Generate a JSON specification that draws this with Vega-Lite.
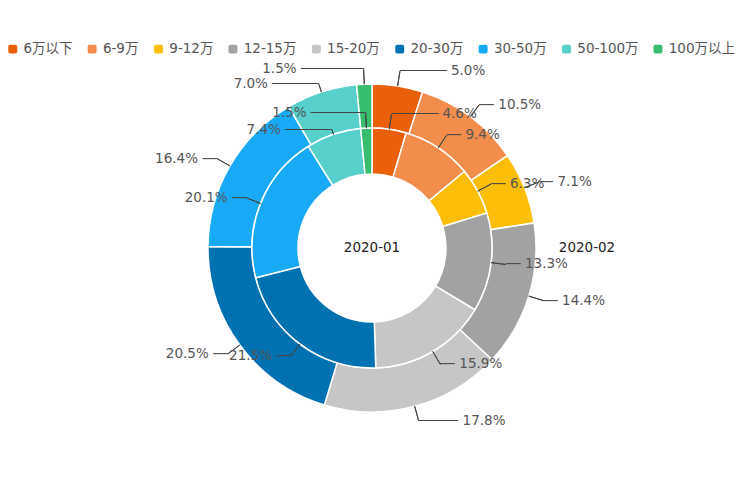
{
  "$schema": "https://vega.github.io/schema/vega-lite/v6.json",
  "width": 744,
  "height": 496,
  "autosize": {"type": "none"},
  "padding": 0,
  "config": {
    "view": {"stroke": null},
    "font": "DejaVu Sans, Noto Sans CJK SC",
    "text": {"font": "DejaVu Sans, Noto Sans CJK SC"}
  },
  "datasets": {
    "share": [
      {"month": "2020-01", "k": 1, "cat": "6万以下", "v": 0.046},
      {"month": "2020-01", "k": 2, "cat": "6-9万", "v": 0.094},
      {"month": "2020-01", "k": 3, "cat": "9-12万", "v": 0.063},
      {"month": "2020-01", "k": 4, "cat": "12-15万", "v": 0.133},
      {"month": "2020-01", "k": 5, "cat": "15-20万", "v": 0.159},
      {"month": "2020-01", "k": 6, "cat": "20-30万", "v": 0.215},
      {"month": "2020-01", "k": 7, "cat": "30-50万", "v": 0.201},
      {"month": "2020-01", "k": 8, "cat": "50-100万", "v": 0.074},
      {"month": "2020-01", "k": 9, "cat": "100万以上", "v": 0.015},
      {"month": "2020-02", "k": 1, "cat": "6万以下", "v": 0.050},
      {"month": "2020-02", "k": 2, "cat": "6-9万", "v": 0.105},
      {"month": "2020-02", "k": 3, "cat": "9-12万", "v": 0.071},
      {"month": "2020-02", "k": 4, "cat": "12-15万", "v": 0.144},
      {"month": "2020-02", "k": 5, "cat": "15-20万", "v": 0.178},
      {"month": "2020-02", "k": 6, "cat": "20-30万", "v": 0.205},
      {"month": "2020-02", "k": 7, "cat": "30-50万", "v": 0.164},
      {"month": "2020-02", "k": 8, "cat": "50-100万", "v": 0.070},
      {"month": "2020-02", "k": 9, "cat": "100万以上", "v": 0.015}
    ]
  },
  "layer": [
    {
      "data": {"name": "share"},
      "transform": [{"filter": "datum.month == '2020-02'"}],
      "mark": {"type": "arc", "radius": 164, "radius2": 120, "stroke": "#fff", "strokeWidth": 1.5},
      "encoding": {
        "theta": {"field": "v", "type": "quantitative", "stack": "normalize", "scale": {"domain": [0, 1]}},
        "order": {"field": "k", "type": "quantitative"},
        "color": {
          "field": "cat",
          "type": "nominal",
          "scale": {
            "domain": ["6万以下", "6-9万", "9-12万", "12-15万", "15-20万", "20-30万", "30-50万", "50-100万", "100万以上"],
            "range": ["#ea5f0a", "#f28d4c", "#fcbe08", "#a2a2a2", "#c6c6c6", "#0072b2", "#18aaf6", "#57d0cc", "#36bd6d"]
          },
          "legend": {
            "title": null,
            "orient": "none",
            "legendX": 6,
            "legendY": 42,
            "direction": "horizontal",
            "columns": 9,
            "columnPadding": 12.4,
            "labelOffset": 4,
            "labelFontSize": 13.5,
            "labelColor": "#555",
            "labelFont": "DejaVu Sans, Noto Sans CJK SC",
            "symbolType": "M-0.55,-1H0.55Q1,-1 1,-0.55V0.55Q1,1 0.55,1H-0.55Q-1,1 -1,0.55V-0.55Q-1,-1 -0.55,-1Z",
            "symbolSize": 80,
            "symbolStrokeWidth": 0
          }
        }
      }
    },
    {
      "data": {"name": "share"},
      "transform": [{"filter": "datum.month == '2020-01'"}],
      "mark": {"type": "arc", "radius": 120, "radius2": 74, "stroke": "#fff", "strokeWidth": 1.5},
      "encoding": {
        "theta": {"field": "v", "type": "quantitative", "stack": "normalize", "scale": {"domain": [0, 1]}},
        "order": {"field": "k", "type": "quantitative"},
        "color": {"field": "cat", "type": "nominal"}
      }
    },
    {
      "data": {"name": "share"},
      "transform": [
        {"filter": "datum.month == '2020-02'"},
        {"fold": ["v", "v"], "as": ["fk", "fv"]},
        {"window": [{"op": "row_number", "as": "rn"}], "groupby": ["cat"]},
        {"stack": "fv", "groupby": [], "sort": [{"field": "k", "order": "ascending"}, {"field": "rn", "order": "ascending"}], "as": ["s0", "s1"], "offset": "normalize"},
        {"filter": "datum.rn == 1"}
      ],
      "layer": [
        {
          "transform": [{"filter": "datum.s1 <= 0.9 || datum.s1 > 0.98"}],
          "mark": {"type": "arc", "radius": 179, "radius2": 164, "filled": false, "stroke": "#444", "strokeWidth": 1},
          "encoding": {
            "theta": {"field": "s1", "type": "quantitative", "stack": null, "scale": {"domain": [0, 1]}},
            "theta2": {"field": "s1"}
          }
        },
        {
          "transform": [{"filter": "datum.s1 > 0.9 && datum.s1 <= 0.98"}],
          "mark": {"type": "arc", "radius": 172, "radius2": 164, "filled": false, "stroke": "#444", "strokeWidth": 1},
          "encoding": {
            "theta": {"field": "s1", "type": "quantitative", "stack": null, "scale": {"domain": [0, 1]}},
            "theta2": {"field": "s1"}
          }
        },
        {
          "transform": [{"filter": "datum.s1 >= 0.05 && datum.s1 < 0.44"}],
          "layer": [
            {
              "mark": {"type": "text", "text": "──", "radius": 179, "align": "left", "baseline": "middle", "fontSize": 12, "color": "#444", "font": "DejaVu Sans"},
              "encoding": {"theta": {"field": "s1", "type": "quantitative", "stack": null, "scale": {"domain": [0, 1]}}}
            },
            {
              "mark": {"type": "text", "radius": 179, "align": "left", "baseline": "middle", "dx": 19, "fontSize": 13.5, "color": "#555"},
              "encoding": {
                "theta": {"field": "s1", "type": "quantitative", "stack": null, "scale": {"domain": [0, 1]}},
                "text": {"field": "v", "type": "quantitative", "format": ".1%"}
              }
            }
          ]
        },
        {
          "transform": [{"filter": "datum.s1 >= 0.44 && datum.s1 < 0.5"}],
          "layer": [
            {
              "mark": {"type": "text", "text": "─────", "radius": 179, "align": "left", "baseline": "middle", "fontSize": 13, "color": "#444", "font": "DejaVu Sans"},
              "encoding": {"theta": {"field": "s1", "type": "quantitative", "stack": null, "scale": {"domain": [0, 1]}}}
            },
            {
              "mark": {"type": "text", "radius": 179, "align": "left", "baseline": "middle", "dx": 44, "fontSize": 13.5, "color": "#555"},
              "encoding": {
                "theta": {"field": "s1", "type": "quantitative", "stack": null, "scale": {"domain": [0, 1]}},
                "text": {"field": "v", "type": "quantitative", "format": ".1%"}
              }
            }
          ]
        },
        {
          "transform": [{"filter": "datum.s1 < 0.05"}],
          "layer": [
            {
              "mark": {"type": "text", "text": "──────", "radius": 179, "align": "left", "baseline": "middle", "fontSize": 13, "color": "#444", "font": "DejaVu Sans"},
              "encoding": {"theta": {"field": "s1", "type": "quantitative", "stack": null, "scale": {"domain": [0, 1]}}}
            },
            {
              "mark": {"type": "text", "radius": 179, "align": "left", "baseline": "middle", "dx": 51, "fontSize": 13.5, "color": "#555"},
              "encoding": {
                "theta": {"field": "s1", "type": "quantitative", "stack": null, "scale": {"domain": [0, 1]}},
                "text": {"field": "v", "type": "quantitative", "format": ".1%"}
              }
            }
          ]
        },
        {
          "transform": [{"filter": "datum.s1 >= 0.5 && datum.s1 <= 0.9"}],
          "layer": [
            {
              "mark": {"type": "text", "text": "──", "radius": 179, "align": "right", "baseline": "middle", "fontSize": 12, "color": "#444", "font": "DejaVu Sans"},
              "encoding": {"theta": {"field": "s1", "type": "quantitative", "stack": null, "scale": {"domain": [0, 1]}}}
            },
            {
              "mark": {"type": "text", "radius": 179, "align": "right", "baseline": "middle", "dx": -19, "fontSize": 13.5, "color": "#555"},
              "encoding": {
                "theta": {"field": "s1", "type": "quantitative", "stack": null, "scale": {"domain": [0, 1]}},
                "text": {"field": "v", "type": "quantitative", "format": ".1%"}
              }
            }
          ]
        },
        {
          "transform": [{"filter": "datum.s1 > 0.9 && datum.s1 <= 0.98"}],
          "layer": [
            {
              "mark": {"type": "text", "text": "──────", "radius": 172, "align": "right", "baseline": "middle", "fontSize": 13, "color": "#444", "font": "DejaVu Sans"},
              "encoding": {"theta": {"field": "s1", "type": "quantitative", "stack": null, "scale": {"domain": [0, 1]}}}
            },
            {
              "mark": {"type": "text", "radius": 172, "align": "right", "baseline": "middle", "dx": -51, "fontSize": 13.5, "color": "#555"},
              "encoding": {
                "theta": {"field": "s1", "type": "quantitative", "stack": null, "scale": {"domain": [0, 1]}},
                "text": {"field": "v", "type": "quantitative", "format": ".1%"}
              }
            }
          ]
        },
        {
          "transform": [{"filter": "datum.s1 > 0.98"}],
          "layer": [
            {
              "mark": {"type": "text", "text": "────────", "radius": 179, "align": "right", "baseline": "middle", "fontSize": 13, "color": "#444", "font": "DejaVu Sans"},
              "encoding": {"theta": {"field": "s1", "type": "quantitative", "stack": null, "scale": {"domain": [0, 1]}}}
            },
            {
              "mark": {"type": "text", "radius": 179, "align": "right", "baseline": "middle", "dx": -67, "fontSize": 13.5, "color": "#555"},
              "encoding": {
                "theta": {"field": "s1", "type": "quantitative", "stack": null, "scale": {"domain": [0, 1]}},
                "text": {"field": "v", "type": "quantitative", "format": ".1%"}
              }
            }
          ]
        }
      ]
    },
    {
      "data": {"name": "share"},
      "transform": [
        {"filter": "datum.month == '2020-01'"},
        {"fold": ["v", "v"], "as": ["fk", "fv"]},
        {"window": [{"op": "row_number", "as": "rn"}], "groupby": ["cat"]},
        {"stack": "fv", "groupby": [], "sort": [{"field": "k", "order": "ascending"}, {"field": "rn", "order": "ascending"}], "as": ["s0", "s1"], "offset": "normalize"},
        {"filter": "datum.rn == 1"}
      ],
      "layer": [
        {
          "transform": [{"filter": "datum.s1 <= 0.9 || datum.s1 > 0.98"}],
          "mark": {"type": "arc", "radius": 135, "radius2": 120, "filled": false, "stroke": "#444", "strokeWidth": 1},
          "encoding": {
            "theta": {"field": "s1", "type": "quantitative", "stack": null, "scale": {"domain": [0, 1]}},
            "theta2": {"field": "s1"}
          }
        },
        {
          "transform": [{"filter": "datum.s1 > 0.9 && datum.s1 <= 0.98"}],
          "mark": {"type": "arc", "radius": 125, "radius2": 120, "filled": false, "stroke": "#444", "strokeWidth": 1},
          "encoding": {
            "theta": {"field": "s1", "type": "quantitative", "stack": null, "scale": {"domain": [0, 1]}},
            "theta2": {"field": "s1"}
          }
        },
        {
          "transform": [{"filter": "datum.s1 >= 0.05 && datum.s1 < 0.5"}],
          "layer": [
            {
              "mark": {"type": "text", "text": "──", "radius": 135, "align": "left", "baseline": "middle", "fontSize": 12, "color": "#444", "font": "DejaVu Sans"},
              "encoding": {"theta": {"field": "s1", "type": "quantitative", "stack": null, "scale": {"domain": [0, 1]}}}
            },
            {
              "mark": {"type": "text", "radius": 135, "align": "left", "baseline": "middle", "dx": 19, "fontSize": 13.5, "color": "#555"},
              "encoding": {
                "theta": {"field": "s1", "type": "quantitative", "stack": null, "scale": {"domain": [0, 1]}},
                "text": {"field": "v", "type": "quantitative", "format": ".1%"}
              }
            }
          ]
        },
        {
          "transform": [{"filter": "datum.s1 < 0.05"}],
          "layer": [
            {
              "mark": {"type": "text", "text": "──────", "radius": 135, "align": "left", "baseline": "middle", "fontSize": 13, "color": "#444", "font": "DejaVu Sans"},
              "encoding": {"theta": {"field": "s1", "type": "quantitative", "stack": null, "scale": {"domain": [0, 1]}}}
            },
            {
              "mark": {"type": "text", "radius": 135, "align": "left", "baseline": "middle", "dx": 51, "fontSize": 13.5, "color": "#555"},
              "encoding": {
                "theta": {"field": "s1", "type": "quantitative", "stack": null, "scale": {"domain": [0, 1]}},
                "text": {"field": "v", "type": "quantitative", "format": ".1%"}
              }
            }
          ]
        },
        {
          "transform": [{"filter": "datum.s1 >= 0.5 && datum.s1 <= 0.9"}],
          "layer": [
            {
              "mark": {"type": "text", "text": "──", "radius": 135, "align": "right", "baseline": "middle", "fontSize": 12, "color": "#444", "font": "DejaVu Sans"},
              "encoding": {"theta": {"field": "s1", "type": "quantitative", "stack": null, "scale": {"domain": [0, 1]}}}
            },
            {
              "mark": {"type": "text", "radius": 135, "align": "right", "baseline": "middle", "dx": -19, "fontSize": 13.5, "color": "#555"},
              "encoding": {
                "theta": {"field": "s1", "type": "quantitative", "stack": null, "scale": {"domain": [0, 1]}},
                "text": {"field": "v", "type": "quantitative", "format": ".1%"}
              }
            }
          ]
        },
        {
          "transform": [{"filter": "datum.s1 > 0.9 && datum.s1 <= 0.98"}],
          "layer": [
            {
              "mark": {"type": "text", "text": "──────", "radius": 125, "align": "right", "baseline": "middle", "fontSize": 13, "color": "#444", "font": "DejaVu Sans"},
              "encoding": {"theta": {"field": "s1", "type": "quantitative", "stack": null, "scale": {"domain": [0, 1]}}}
            },
            {
              "mark": {"type": "text", "radius": 125, "align": "right", "baseline": "middle", "dx": -51, "fontSize": 13.5, "color": "#555"},
              "encoding": {
                "theta": {"field": "s1", "type": "quantitative", "stack": null, "scale": {"domain": [0, 1]}},
                "text": {"field": "v", "type": "quantitative", "format": ".1%"}
              }
            }
          ]
        },
        {
          "transform": [{"filter": "datum.s1 > 0.98"}],
          "layer": [
            {
              "mark": {"type": "text", "text": "───────", "radius": 135, "align": "right", "baseline": "middle", "fontSize": 13, "color": "#444", "font": "DejaVu Sans"},
              "encoding": {"theta": {"field": "s1", "type": "quantitative", "stack": null, "scale": {"domain": [0, 1]}}}
            },
            {
              "mark": {"type": "text", "radius": 135, "align": "right", "baseline": "middle", "dx": -59, "fontSize": 13.5, "color": "#555"},
              "encoding": {
                "theta": {"field": "s1", "type": "quantitative", "stack": null, "scale": {"domain": [0, 1]}},
                "text": {"field": "v", "type": "quantitative", "format": ".1%"}
              }
            }
          ]
        }
      ]
    },
    {
      "data": {"values": [{"month": "2020-01"}]},
      "mark": {"type": "text", "baseline": "middle", "align": "center", "fontSize": 13.5, "color": "#222"},
      "encoding": {"text": {"field": "month", "type": "nominal"}}
    },
    {
      "data": {"values": [{"month": "2020-02"}]},
      "mark": {"type": "text", "radius": 215, "baseline": "middle", "align": "center", "fontSize": 13.5, "color": "#222"},
      "encoding": {
        "theta": {"datum": 0.25, "type": "quantitative", "stack": null, "scale": {"domain": [0, 1]}},
        "text": {"field": "month", "type": "nominal"}
      }
    }
  ]
}
